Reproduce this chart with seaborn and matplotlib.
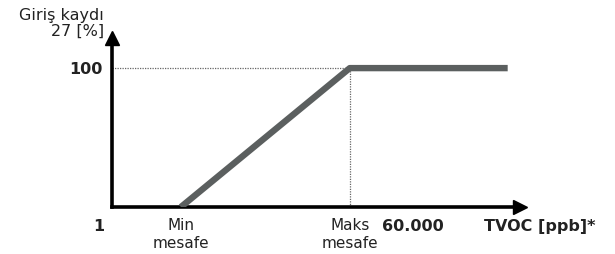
import matplotlib
matplotlib.use("Agg")
import matplotlib.pyplot as plt
import seaborn as sns
import pandas as pd

# concentration axis (arbitrary scale), response in %
tvoc = [0.69, 2.38, 3.96]
response = [0, 100, 100]
tick_pos = [0.69, 2.38, 2.94]
tick_labels = ["Min\nmesafe", "Maks\nmesafe", "60.000"]
y_tick = 100

sns.set_style("white")
plt.rcParams['font.family'] = ['DejaVu Sans']

fig = plt.figure(figsize=(6.15, 2.54), dpi=100)
ax = fig.add_axes([0.182, 0.185, 0.663, 0.665])

df = pd.DataFrame({'tvoc': tvoc, 'response': response})
sns.lineplot(data=df, x='tvoc', y='response', ax=ax, color='#5b5f5f',
             linewidth=4.6, solid_capstyle='butt', zorder=3)

# dotted guides
ax.plot([0, tick_pos[1]], [y_tick, y_tick], color='#666666', lw=0.9, ls=(0, (1, 1)), zorder=2)
ax.plot([tick_pos[1], tick_pos[1]], [0, y_tick], color='#666666', lw=0.9, ls=(0, (1, 1)), zorder=2)

ax.set_xlim(0, 4.08)
ax.set_ylim(0, 121.6)
for s in ['top', 'right']:
    ax.spines[s].set_visible(False)
for s in ['left', 'bottom']:
    ax.spines[s].set_linewidth(2.6)
    ax.spines[s].set_color('black')

# arrow heads
ax.plot(1, 0, '>', color='black', ms=10, transform=ax.transAxes, clip_on=False)
ax.plot(0, 1, '^', color='black', ms=10, transform=ax.transAxes, clip_on=False)

ax.set_xticks(tick_pos)
ax.set_xticklabels(tick_labels[:2] + [''], fontsize=11, color='#222222')
ax.tick_params(axis='x', direction='inout', length=6, width=1.5, pad=5, color='black')
# the 60.000 label sits a little right of its tick
ax.annotate(tick_labels[2], xy=(tick_pos[2], 0), xytext=(5, -8.5), textcoords='offset points',
            ha='center', va='top', fontsize=11.5, fontweight='bold', color='#222222')
ax.set_yticks([y_tick])
ax.set_yticklabels(['100'], fontsize=11.5, fontweight='bold', color='#222222')
ax.tick_params(axis='y', length=0, pad=7)
ax.set_xlabel('')
ax.set_ylabel('')

ax.text(-0.13, -8.5, '1', fontsize=11.5, fontweight='bold', ha='center', va='top', color='#222222')
ax.text(4.84, -8.5, 'TVOC [ppb]*', fontsize=11.5, fontweight='bold', ha='right', va='top',
        color='#222222')
ax.text(-0.08, 143, 'Giriş kaydı\n27 [%]', fontsize=11.5, ha='right', va='top',
        linespacing=1.05, color='#222222')

fig.savefig('out.png', dpi=100)
